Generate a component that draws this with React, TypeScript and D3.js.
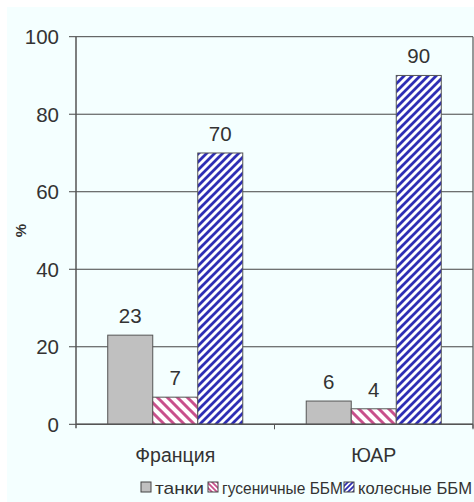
import React from "react";
import * as d3 from "d3";

const categories = ["Франция", "ЮАР"];
const seriesNames = ["танки", "гусеничные ББМ", "колесные ББМ"];
const tanks = [23, 6];
const trackedAFV = [7, 4];
const wheeledAFV = [70, 90];
const yTicks = [0, 20, 40, 60, 80, 100];

const W = 474;
const H = 502;
const M = { left: 76, right: 473, top: 36.7, bottom: 424.3 };
const FONT = "'Liberation Sans', Arial, sans-serif";
const TEXT = "#333";

export default function App() {
  const x0 = d3.scaleBand<string>().domain(categories).range([M.left, M.right]).paddingInner(0).paddingOuter(0);
  const x1 = d3.scaleBand<string>().domain(seriesNames).range([0, x0.bandwidth()]).paddingInner(0).paddingOuter(0.705);
  const y = d3.scaleLinear().domain([0, 100]).range([M.bottom, M.top]);
  const values = [tanks, trackedAFV, wheeledAFV];
  const fills = ["#C0C0C0", "url(#pinkStripe)", "url(#blueStripe)"];

  const legendItems = [
    { name: seriesNames[0], fill: "#C0C0C0", x: 141, len: 49 },
    { name: seriesNames[1], fill: "url(#pinkStripeS)", x: 208, len: 121 },
    { name: seriesNames[2], fill: "url(#blueStripeS)", x: 344, len: 114 },
  ];

  return (
    <div style={{ position: "absolute", left: 0, top: 0 }}>
      <svg width={W} height={H} style={{ display: "block", fontFamily: FONT }}>
        <defs>
          <pattern id="blueStripe" patternUnits="userSpaceOnUse" width="8" height="8">
            <rect width="8" height="8" fill="#fff" />
            <path d="M-2,2 L2,-2 M0,8 L8,0 M6,10 L10,6" stroke="#2E2EB4" strokeWidth="2.8" />
          </pattern>
          <pattern id="pinkStripe" patternUnits="userSpaceOnUse" width="10" height="10">
            <rect width="10" height="10" fill="#fff" />
            <path d="M-2,8 L2,12 M0,0 L10,10 M8,-2 L12,2" stroke="#C8508C" strokeWidth="3" />
          </pattern>
          <pattern id="blueStripeS" patternUnits="userSpaceOnUse" width="5" height="5">
            <rect width="5" height="5" fill="#fff" />
            <path d="M-1,1 L1,-1 M0,5 L5,0 M4,6 L6,4" stroke="#2E2EB4" strokeWidth="1.8" />
          </pattern>
          <pattern id="pinkStripeS" patternUnits="userSpaceOnUse" width="5" height="5">
            <rect width="5" height="5" fill="#fff" />
            <path d="M-1,4 L1,6 M0,0 L5,5 M4,-1 L6,1" stroke="#C8508C" strokeWidth="1.8" />
          </pattern>
        </defs>
        <rect x={7} y={7} width={W - 7} height={H - 7} fill="#F4FFFF" />

        {/* gridlines */}
        {yTicks.map((t) => (
          <line key={"g" + t} x1={M.left - 7} x2={M.right} y1={y(t)} y2={y(t)} stroke="#444" strokeWidth={1} />
        ))}
        {yTicks.map((t) => (
          <text key={"t" + t} x={M.left - 17} y={y(t)} dy="0.36em" textAnchor="end" fontSize={20.5} fill={TEXT}>
            {t}
          </text>
        ))}
        <text transform={`translate(26,${(M.top + M.bottom) / 2}) rotate(-90)`} textAnchor="middle" fontSize={15} fontWeight="bold" fill={TEXT}>
          %
        </text>

        {/* bars */}
        {categories.map((c, ci) =>
          seriesNames.map((s, si) => {
            const v = values[si][ci];
            const bx = (x0(c) ?? 0) + (x1(s) ?? 0);
            const bw = x1.bandwidth();
            return (
              <g key={c + s}>
                <rect x={bx} y={y(v)} width={bw} height={y(0) - y(v)} fill={fills[si]} stroke="#555" strokeWidth={1} />
                <text x={bx + bw / 2} y={y(v) - 12} textAnchor="middle" fontSize={20.5} fill={TEXT}>
                  {v}
                </text>
              </g>
            );
          })
        )}

        {/* axes */}
        <line x1={M.left} x2={M.left} y1={M.top} y2={M.bottom + 4} stroke="#555" strokeWidth={1.5} />
        <line x1={M.right} x2={M.right} y1={M.top} y2={M.bottom + 4} stroke="#555" strokeWidth={1.2} />
        <line x1={M.left} x2={M.right} y1={M.bottom} y2={M.bottom} stroke="#555" strokeWidth={1.5} />
        {categories.map((c) => (
          <line key={"ct" + c} x1={(x0(c) ?? 0) + x0.bandwidth()} x2={(x0(c) ?? 0) + x0.bandwidth()} y1={M.bottom} y2={M.bottom + 5} stroke="#555" />
        ))}
        {categories.map((c) => (
          <text key={"cl" + c} x={(x0(c) ?? 0) + x0.bandwidth() / 2} y={462} textAnchor="middle" fontSize={19.5} fill={TEXT}>
            {c}
          </text>
        ))}

        {/* legend */}
        {legendItems.map((it) => (
          <g key={it.name}>
            <rect x={it.x} y={482} width={10} height={10} fill={it.fill} stroke="#444" />
            <text x={it.x + 14} y={494} fontSize={17} fill={TEXT} textLength={it.len} lengthAdjust="spacingAndGlyphs">
              {it.name}
            </text>
          </g>
        ))}
      </svg>
    </div>
  );
}
